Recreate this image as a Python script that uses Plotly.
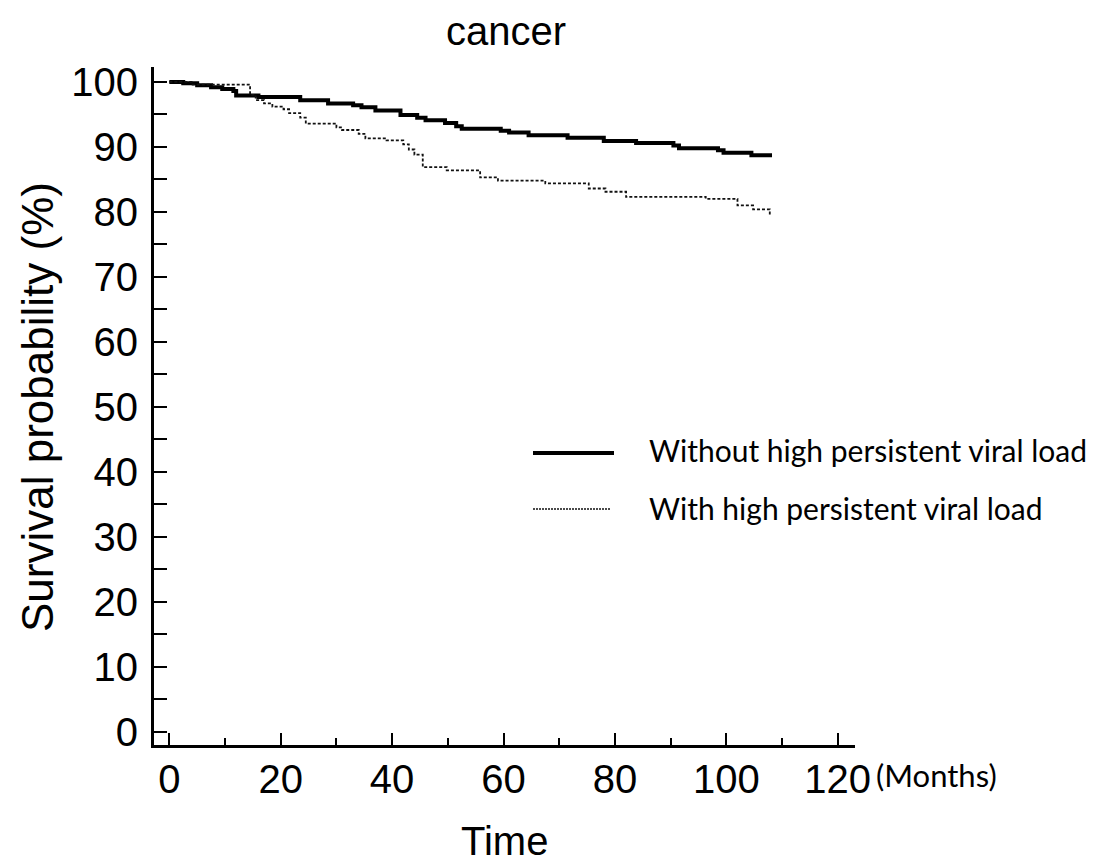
import plotly.graph_objects as go

# Kaplan-Meier step data (months, survival %)
months_without = [0, 2.5, 5, 7.5, 9.5, 11.5, 12, 16, 23.5, 28.5, 33, 34.5, 37, 41.5,
                  44.5, 46, 49.5, 51.5, 52.5, 59.5, 61, 64.5, 71.5, 78, 83.8, 90.5,
                  91.5, 98.5, 99.5, 104.5, 108.2]
surv_without = [100, 99.8, 99.5, 99.2, 98.9, 98.6, 97.9, 97.7, 97.2, 96.7, 96.4, 96.1,
                95.6, 94.9, 94.5, 94.1, 93.7, 93.2, 92.8, 92.5, 92.2, 91.8, 91.4, 90.9,
                90.6, 90.2, 89.8, 89.5, 89.1, 88.7, 88.7]

months_with = [0, 4, 14.5, 15.5, 17, 18.5, 20.5, 21.5, 23.5, 24.5, 30, 31, 34, 35.2,
               39, 42, 43, 44, 45.5, 49.8, 55.8, 59, 67.5, 75.3, 78.3, 82, 96.3, 102,
               104.8, 107.8, 108]
surv_with = [100, 99.6, 98.0, 97.2, 96.7, 96.2, 95.8, 95.2, 94.5, 93.6, 93.0, 92.6,
             92.0, 91.3, 91.0, 90.4, 89.6, 88.8, 86.9, 86.4, 85.3, 84.8, 84.4, 83.6,
             83.1, 82.3, 82.0, 81.0, 80.4, 79.5, 79.5]

series_names = ["Without high persistent viral load", "With high persistent viral load"]
x_ticks = [0, 20, 40, 60, 80, 100, 120]
y_ticks = [0, 10, 20, 30, 40, 50, 60, 70, 80, 90, 100]

W, H = 1093, 865
L, R, T, B = 154, 238, 67, 120
PW, PH = W - L - R, H - T - B


def px(xp):
    return (xp - L) / PW


def py(yp):
    return (H - B - yp) / PH


ARIAL = "Arial, Liberation Sans, sans-serif"
CAL = "Lato, Open Sans, sans-serif"

fig = go.Figure()
fig.add_trace(go.Scatter(x=months_without, y=surv_without, mode="lines",
                         line=dict(shape="hv", color="black", width=4),
                         name=series_names[0], showlegend=False))
fig.add_trace(go.Scatter(x=months_with, y=surv_with, mode="lines",
                         line=dict(shape="hv", color="#111111", width=1.8, dash="3px,2px"),
                         name=series_names[1], showlegend=False))

axis_common = dict(showgrid=False, zeroline=False, showline=True, linecolor="black",
                   linewidth=3, ticks="inside", tickcolor="black", tickwidth=2,
                   tickfont=dict(family=ARIAL, size=40, color="black"))

fig.update_xaxes(range=[-2.75, 123.1], tickvals=x_ticks, ticklen=12,
                 minor=dict(ticks="inside", dtick=10, tick0=0, ticklen=7,
                            tickwidth=2, tickcolor="black"),
                 ticklabelstandoff=-3, **axis_common)
fig.update_yaxes(range=[-2.05, 102.3], tickvals=y_ticks, ticklen=13,
                 minor=dict(ticks="inside", dtick=5, tick0=0, ticklen=13,
                            tickwidth=2, tickcolor="black"),
                 ticklabelstandoff=5, **axis_common)

annotations = [
    dict(text="cancer", x=px(506), y=py(31), font=dict(family=ARIAL, size=40)),
    dict(text="Time", x=px(505), y=py(841), font=dict(family=ARIAL, size=40)),
    dict(text="Survival probability (%)", x=px(37), y=py(407), textangle=-90,
         font=dict(family=ARIAL, size=44)),
    dict(text="(Months)", x=px(874), y=py(775), xanchor="left",
         font=dict(family=CAL, size=31)),
    dict(text=series_names[0], x=px(647), y=py(450), xanchor="left",
         font=dict(family=CAL, size=30)),
    dict(text=series_names[1], x=px(647), y=py(508), xanchor="left",
         font=dict(family=CAL, size=30)),
]
for a in annotations:
    a.setdefault("xanchor", "center")
    a.update(xref="paper", yref="paper", yanchor="middle", showarrow=False)
    a["font"]["color"] = "black"

shapes = [
    dict(type="line", xref="paper", yref="paper", x0=px(533), x1=px(614), y0=py(453), y1=py(453),
         line=dict(color="black", width=4)),
    dict(type="line", xref="paper", yref="paper", x0=px(533), x1=px(611), y0=py(509), y1=py(509),
         line=dict(color="#111111", width=1.6, dash="2px,1px")),
]

fig.update_layout(width=W, height=H, margin=dict(l=L, r=R, t=T, b=B, pad=0),
                  plot_bgcolor="white", paper_bgcolor="white",
                  annotations=annotations, shapes=shapes, showlegend=False)

fig.write_html("out.html")
